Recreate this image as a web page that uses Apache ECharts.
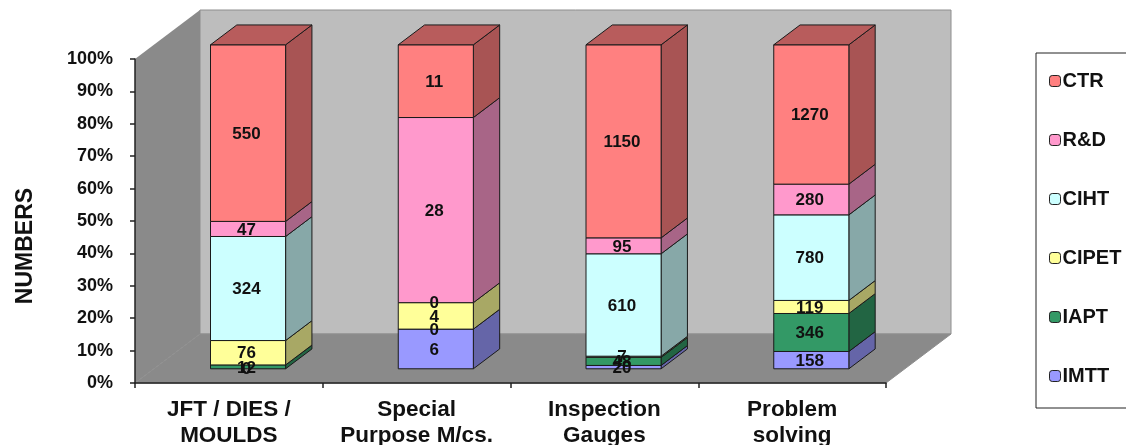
<!DOCTYPE html>
<html>
<head>
<meta charset="utf-8">
<style>html,body{margin:0;padding:0;background:#fff}#chart{width:1126px;height:445px}</style>
<script src="https://cdn.jsdelivr.net/npm/echarts@6/dist/echarts.min.js"></script>
</head>
<body>
<div id="chart"></div>
<script>
// Job categories on the horizontal axis
const categories = ['JFT / DIES /\nMOULDS', 'Special\nPurpose M/cs.', 'Inspection\nGauges', 'Problem\nsolving'];

// Counts per institute, one value per category
const IMTT  = [0, 6, 20, 158];
const IAPT  = [12, 0, 48, 346];
const CIPET = [76, 4, 7, 119];
const CIHT  = [324, 0, 610, 780];
const RND   = [47, 28, 95, 280];
const CTR   = [550, 11, 1150, 1270];

const seriesNames = ['IMTT', 'IAPT', 'CIPET', 'CIHT', 'R&D', 'CTR'];
const seriesValues = [IMTT, IAPT, CIPET, CIHT, RND, CTR];
const seriesColors = ['#9999FF', '#339966', '#FFFF99', '#CCFFFF', '#FF99CC', '#FF8080'];
const legendOrder = ['CTR', 'R&D', 'CIHT', 'CIPET', 'IAPT', 'IMTT'];

// Oblique projection of the 3D box
const DEPTH_X = 65, DEPTH_Y = -49;
const BAR_FRONT_X = 0.295, BAR_FRONT_Y = 0.29, BAR_DEPTH = 0.405;
const BAR_RATIO = 0.4;

function shade(hex, k) {
  const n = parseInt(hex.slice(1), 16);
  const c = [n >> 16, (n >> 8) & 255, n & 255].map(v => Math.round(v * k));
  return `rgb(${c[0]},${c[1]},${c[2]})`;
}

// Cumulative percentage bounds of each segment
const totals = categories.map((_, i) => seriesValues.reduce((s, arr) => s + arr[i], 0));
const running = categories.map(() => 0);
const segments = seriesValues.map(arr => arr.map((v, i) => {
  const start = running[i];
  running[i] += v;
  return [i, start / totals[i] * 100, running[i] / totals[i] * 100, v];
}));

function poly(points, fill, stroke) {
  return { type: 'polygon', shape: { points }, style: { fill, stroke: stroke || 'none', lineWidth: 1 } };
}

function renderWalls(params) {
  const g = params.coordSys;
  const l = g.x, r = g.x + g.width, t = g.y, b = g.y + g.height;
  const dx = DEPTH_X, dy = DEPTH_Y;
  return {
    type: 'group',
    children: [
      poly([[l + dx, t + dy], [r + dx, t + dy], [r + dx, b + dy], [l + dx, b + dy]], '#BDBDBD', '#8E8E8E'),
      poly([[l, t], [l + dx, t + dy], [l + dx, b + dy], [l, b]], '#8A8A8A'),
      poly([[l, b], [l + dx, b + dy], [r + dx, b + dy], [r, b]], '#8A8A8A', '#8E8E8E')
    ]
  };
}

function makeBarRenderer(color) {
  return function (params, api) {
    const value = api.value(3);
    const bottom = api.coord([api.value(0), api.value(1)]);
    const top = api.coord([api.value(0), api.value(2)]);
    const w = api.size([1, 0])[0] * BAR_RATIO;
    const ox = DEPTH_X * BAR_FRONT_X, oy = DEPTH_Y * BAR_FRONT_Y;
    const bx = DEPTH_X * BAR_DEPTH, by = DEPTH_Y * BAR_DEPTH;
    const x0 = bottom[0] - w / 2 + ox, x1 = x0 + w;
    const y0 = bottom[1] + oy, y1 = top[1] + oy;
    const edge = '#1a1a1a';
    const children = [];
    if (value > 0) {
      children.push(poly([[x1, y1], [x1 + bx, y1 + by], [x1 + bx, y0 + by], [x1, y0]], shade(color, 0.66), edge));
      children.push(poly([[x0, y1], [x1, y1], [x1, y0], [x0, y0]], color, edge));
      if (api.value(2) >= 99.999) {
        children.push(poly([[x0, y1], [x0 + bx, y1 + by], [x1 + bx, y1 + by], [x1, y1]], shade(color, 0.72), edge));
      }
    }
    children.push({
      type: 'text',
      z2: 100,
      style: {
        x: (x0 + x1) / 2 - 1.5, y: (y0 + y1) / 2 + 1,
        text: String(value),
        align: 'center', verticalAlign: 'middle',
        fill: '#111', font: 'bold 17px "Liberation Sans", Arial, sans-serif'
      }
    });
    return { type: 'group', children };
  };
}

const chart = echarts.init(document.getElementById('chart'), null, { renderer: 'canvas' });
chart.setOption({
  animation: false,
  backgroundColor: '#fff',
  textStyle: { fontFamily: '"Liberation Sans", Arial, sans-serif' },
  grid: { left: 135, top: 59, width: 751, height: 324, outerBoundsMode: 'none' },
  xAxis: {
    type: 'category',
    data: categories,
    z: 1,
    axisLine: { lineStyle: { color: '#222', width: 1.5 } },
    axisTick: { show: true, alignWithLabel: false, length: 5, lineStyle: { color: '#222', width: 1.5 } },
    axisLabel: { color: '#111', fontWeight: 'bold', fontSize: 22.5, lineHeight: 26, margin: 14, interval: 0 }
  },
  yAxis: {
    type: 'value',
    min: 0, max: 100, interval: 10,
    z: 1,
    name: 'NUMBERS',
    nameLocation: 'middle',
    nameGap: 98,
    nameRotate: 90,
    nameTextStyle: { color: '#111', fontWeight: 'bold', fontSize: 23, padding: [0, 50, 0, 0] },
    splitLine: { show: false },
    axisLine: { show: true, lineStyle: { color: '#222', width: 1.5 } },
    axisTick: { show: true, length: 5, lineStyle: { color: '#222', width: 1.5 } },
    axisLabel: { color: '#111', fontWeight: 'bold', fontSize: 18, margin: 22, formatter: '{value}%' }
  },
  legend: {
    data: legendOrder,
    orient: 'vertical',
    left: 1036, top: 53,
    padding: [18, 50, 22, 13],
    itemWidth: 11, itemHeight: 11, itemGap: 39,
    selectedMode: false,
    backgroundColor: '#fff',
    borderColor: '#222', borderWidth: 1,
    itemStyle: { borderColor: '#222', borderWidth: 1 },
    textStyle: { color: '#111', fontWeight: 'bold', fontSize: 20, padding: [0, 0, 0, -3] }
  },
  series: [
    { type: 'custom', name: 'walls', z: 0, silent: true, data: [[0]], renderItem: renderWalls },
    ...seriesNames.map((name, k) => ({
      type: 'custom',
      name,
      z: 2,
      silent: true,
      itemStyle: { color: seriesColors[k] },
      encode: { x: 0, y: 2 },
      data: segments[k],
      renderItem: makeBarRenderer(seriesColors[k])
    }))
  ]
});
</script>
</body>
</html>
